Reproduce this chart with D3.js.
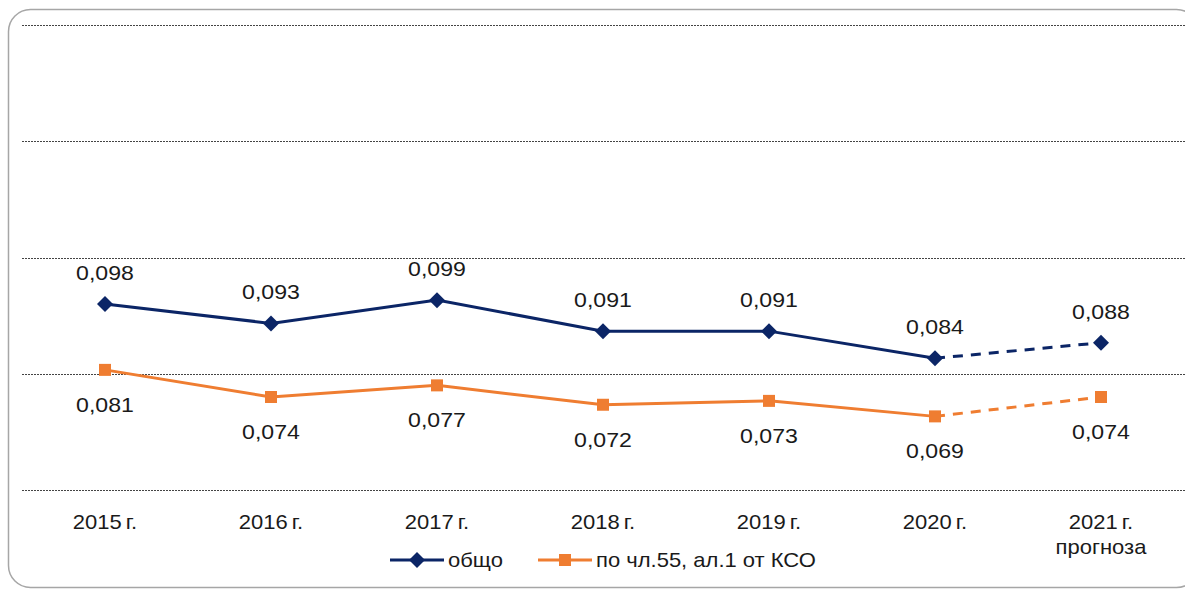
<!DOCTYPE html>
<html>
<head>
<meta charset="utf-8">
<script src="https://cdn.jsdelivr.net/npm/d3@7"></script>
<style>
  body { margin: 0; background: #fff; }
  text { font-family: "Liberation Sans", Arial, sans-serif; fill: #1a1a1a; }
</style>
</head>
<body>
<div id="chart"></div>
<script>
// data
var years = ["2015 г.", "2016 г.", "2017 г.", "2018 г.", "2019 г.", "2020 г.", "2021 г.|прогноза"];
var total = [0.098, 0.093, 0.099, 0.091, 0.091, 0.084, 0.088];
var art55 = [0.081, 0.074, 0.077, 0.072, 0.073, 0.069, 0.074];
var seriesNames = ["общо", "по чл.55, ал.1 от КСО"];
var yTicks = [0.05, 0.08, 0.11, 0.14, 0.17];

var svgWidth = 1185;
var svgHeight = 590;

var navy = "#0b2566";
var orange = "#ef7d31";
// text in the original is a bit wider than Liberation Sans
var stretch = 1.1;

var svg = d3.select("#chart")
    .append("svg")
    .attr("width", svgWidth)
    .attr("height", svgHeight);

// frame
svg.append("rect")
    .attr("x", 8.5)
    .attr("y", 9.5)
    .attr("width", 1190)
    .attr("height", 578)
    .attr("rx", 22)
    .attr("fill", "none")
    .attr("stroke", "#a6a6a6")
    .attr("stroke-width", 1.5);

var xScale = d3.scaleBand()
    .domain(years)
    .range([22, 1184]);

var yScale = d3.scaleLinear()
    .domain([0.05, 0.17])
    .range([490, 25]);

function cx(i) { return xScale(years[i]) + xScale.bandwidth() / 2; }

// gridlines
svg.append("g").selectAll("line")
    .data(yTicks)
    .enter()
    .append("line")
    .attr("x1", 22)
    .attr("x2", 1185)
    .attr("y1", d => Math.round(yScale(d)) + 0.5)
    .attr("y2", d => Math.round(yScale(d)) + 0.5)
    .attr("stroke", "#444")
    .attr("stroke-width", 1)
    .attr("stroke-dasharray", "2,1");

// x labels
var xLabels = svg.append("g").selectAll("text")
    .data(years)
    .enter()
    .append("text")
    .attr("transform", (d, i) => `translate(${cx(i)}, 529) scale(${stretch},1)`)
    .attr("text-anchor", "middle")
    .style("font-size", "20px")
    .style("word-spacing", "-2px");

xLabels.each(function(d) {
    var t = d3.select(this);
    d.split("|").forEach(function(p, k) {
        t.append("tspan")
            .attr("x", 0)
            .attr("dy", k === 0 ? 0 : 25)
            .text(p);
    });
});

function drawSeries(values, color, marker) {
    var line = d3.line()
        .x((d, i) => cx(i))
        .y(d => yScale(d));
    svg.append("path")
        .datum(values.slice(0, 6))
        .attr("d", line)
        .attr("fill", "none")
        .attr("stroke", color)
        .attr("stroke-width", 3);
    svg.append("path")
        .datum(values.slice(5))
        .attr("d", d3.line().x((d, i) => cx(i + 5)).y(d => yScale(d)))
        .attr("fill", "none")
        .attr("stroke", color)
        .attr("stroke-width", 3)
        .attr("stroke-dasharray", "10,8");
    svg.append("g").selectAll("path")
        .data(values)
        .enter()
        .append("path")
        .attr("transform", (d, i) => `translate(${cx(i)}, ${yScale(d)})`)
        .attr("d", marker)
        .attr("fill", color);
}

var diamond = "M0,-8L8,0L0,8L-8,0Z";
var square = "M-6,-6H6V6H-6Z";

drawSeries(total, navy, diamond);
drawSeries(art55, orange, square);

function fmt(v) { return d3.format(".3f")(v).replace(".", ","); }

// value labels
svg.append("g").selectAll("text")
    .data(total)
    .enter()
    .append("text")
    .attr("transform", (d, i) => `translate(${cx(i)}, ${yScale(d) - 24}) scale(${stretch},1)`)
    .attr("text-anchor", "middle")
    .style("font-size", "21px")
    .text(fmt);

svg.append("g").selectAll("text")
    .data(art55)
    .enter()
    .append("text")
    .attr("transform", (d, i) => `translate(${cx(i)}, ${yScale(d) + 42}) scale(${stretch},1)`)
    .attr("text-anchor", "middle")
    .style("font-size", "21px")
    .text(fmt);

// legend
var legend = [
    { name: seriesNames[0], color: navy, marker: diamond, x: 390 },
    { name: seriesNames[1], color: orange, marker: square, x: 538 }
];
var lg = svg.append("g").selectAll("g")
    .data(legend)
    .enter()
    .append("g")
    .attr("transform", d => `translate(${d.x}, 560)`);
lg.append("line")
    .attr("x1", 0).attr("x2", 54)
    .attr("stroke", d => d.color)
    .attr("stroke-width", 3);
lg.append("path")
    .attr("transform", "translate(27,0)")
    .attr("d", d => d.marker)
    .attr("fill", d => d.color);
lg.append("text")
    .attr("transform", `translate(58, 7) scale(${stretch},1)`)
    .style("font-size", "20px")
    .text(d => d.name);
</script>
</body>
</html>
